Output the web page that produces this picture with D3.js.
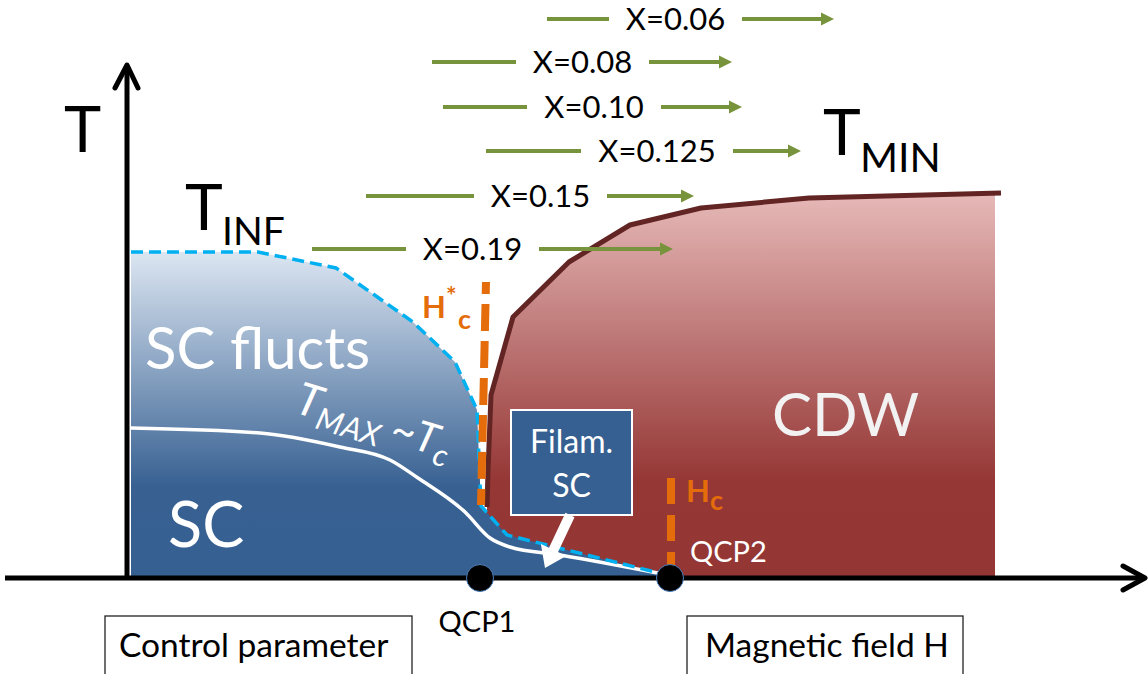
<!DOCTYPE html>
<html><head><meta charset="utf-8">
<script src="https://cdn.jsdelivr.net/npm/d3@7"></script>
<style>html,body{margin:0;padding:0;background:#fff;overflow:hidden;} svg{display:block;font-family:Lato,"Open Sans",sans-serif;}</style>
</head><body>
<svg id="c" width="1148" height="674"></svg>
<script>
// ---------------- data (x: control parameter / field, y: temperature; arbitrary units) ----------------
const tinfCurve = [[0.3,65],[13.0,65],[20.8,61.8],[28.5,51],[32.7,43],[34.9,33.4],[35.3,14.2],[37.9,8.4],[53.5,0.6]];
const tmaxCurve = [[0.3,29.8],[13.2,28.8],[21.2,26],[26.2,23.4],[29.0,19.8],[33.7,13],[36.2,7.8],[38.2,6],[43.2,4.4],[54.0,0.4]];
const cdwBoundary = [[35.9,14],[36.0,21.4],[36.3,36.4],[38.5,52],[44.1,63],[50.2,70.4],[57.3,73.8],[68.1,75.8],[87.3,76.8]];
const cdwRightEdge = 86.7;
const scEnd = 54.0;
const hcStarLine = [[35.8,59],[35.3,14.4]];
const hcLine = [[54.3,19.8],[54.3,1.2]];
const qcpNames = ["QCP1","QCP2"];
const qcpX = [35.2, 54.2];

const dopingLabels = ["X=0.06","X=0.08","X=0.10","X=0.125","X=0.15","X=0.19"];
const dopingT      = [111.6, 103, 94, 85.2, 76.2, 65.6];
const dopingFrom   = [41.9, 30.4, 31.5, 35.8, 23.8, 18.4];
const dopingTextL  = [48.1, 38.8, 39.9, 45.3, 34.6, 27.8];
const dopingTextR  = [61.4, 52.1, 53.3, 60.5, 47.9, 41.1];
const dopingTo     = [70.6, 60.4, 61.4, 67.3, 56.6, 54.5];

const axisLabels = ["Control parameter", "Magnetic field H"];

// ---------------- scales ----------------
const x = d3.scaleLinear().domain([0, 102]).range([128, 1148]);
const y = d3.scaleLinear().domain([0, 115]).range([577, 2]);

const svg = d3.select("#c");
const defs = svg.append("defs");

const gBlue = defs.append("linearGradient").attr("id","gBlue").attr("gradientUnits","userSpaceOnUse")
  .attr("x1",0).attr("x2",0).attr("y1",y(65)).attr("y2",y(0));
gBlue.append("stop").attr("offset",0).attr("stop-color","#dce6f2");
gBlue.append("stop").attr("offset",0.72).attr("stop-color","#386192");
gBlue.append("stop").attr("offset",1).attr("stop-color","#366092");

const gRed = defs.append("linearGradient").attr("id","gRed").attr("gradientUnits","userSpaceOnUse")
  .attr("x1",0).attr("x2",0).attr("y1",y(76.8)).attr("y2",y(0));
gRed.append("stop").attr("offset",0).attr("stop-color","#e6b9b8");
gRed.append("stop").attr("offset",0.75).attr("stop-color","#953735");
gRed.append("stop").attr("offset",1).attr("stop-color","#943634");

const line = d3.line().x(d=>x(d[0])).y(d=>y(d[1]));

// ---------------- CDW region ----------------
const cdwFill = cdwBoundary.map(d=>[Math.min(d[0],cdwRightEdge), d[1]])
  .concat([[cdwRightEdge,0],[cdwBoundary[0][0],0]]);
svg.append("path").attr("d", line(cdwFill)+"Z").attr("fill","url(#gRed)");

// ---------------- SC region ----------------
const scFill = tinfCurve.concat([[scEnd,0],[tinfCurve[0][0],0]]);
svg.append("path").attr("d", line(scFill)+"Z").attr("fill","url(#gBlue)");

// CDW boundary line
svg.append("path").attr("d", line(cdwBoundary)).attr("fill","none")
  .attr("stroke","#632523").attr("stroke-width",5).attr("stroke-linejoin","round");

// T_MAX ~ Tc line
svg.append("path").attr("d", d3.line().x(d=>x(d[0])).y(d=>y(d[1])).curve(d3.curveMonotoneX)(tmaxCurve))
  .attr("fill","none").attr("stroke","#fff").attr("stroke-width",3.5);

// T_INF dashed line
svg.append("path").attr("d", line(tinfCurve)).attr("fill","none")
  .attr("stroke","#00b0f0").attr("stroke-width",3.5).attr("stroke-dasharray","12,6");

// orange critical field dashed lines
svg.append("path").attr("d", line(hcStarLine)).attr("fill","none")
  .attr("stroke","#e46c0a").attr("stroke-width",8).attr("stroke-dasharray","27,10").attr("stroke-dashoffset",15);
svg.append("path").attr("d", line(hcLine)).attr("fill","none")
  .attr("stroke","#e46c0a").attr("stroke-width",8).attr("stroke-dasharray","26,11");

// ---------------- axes ----------------
const ax = -0.1, ay = -0.2;
svg.append("path").attr("d", line([[ax,ay],[ax,102.4]])).attr("stroke","#000").attr("stroke-width",5).attr("fill","none");
svg.append("path").attr("d", line([[-12.3,ay],[101.7,ay]])).attr("stroke","#000").attr("stroke-width",5).attr("fill","none");
svg.append("path").attr("d", line([[ax-1.2,97.8],[ax,102.4],[ax+1.1,97.8]]))
  .attr("stroke","#000").attr("stroke-width",5).attr("fill","none").attr("stroke-linecap","round").attr("stroke-linejoin","round");
svg.append("path").attr("d", line([[99.5,ay+2.4],[101.7,ay],[99.5,ay-2.4]]))
  .attr("stroke","#000").attr("stroke-width",5).attr("fill","none").attr("stroke-linecap","round").attr("stroke-linejoin","round");

// ---------------- Filam. SC box and arrow ----------------
svg.append("rect").attr("x",x(38.3)).attr("y",y(33.4)).attr("width",x(50.4)-x(38.3)).attr("height",y(12.4)-y(33.4))
  .attr("fill","#376092").attr("stroke","#fff").attr("stroke-width",2);
svg.append("text").attr("x",x(44.35)).attr("y",453).attr("text-anchor","middle").attr("fill","#fff").attr("font-size",32).text("Filam.");
svg.append("text").attr("x",x(44.35)).attr("y",497).attr("text-anchor","middle").attr("fill","#fff").attr("font-size",32).text("SC");

function blockArrow(x0,y0,x1,y1,sw,hw,hl){
  const dx=x1-x0, dy=y1-y0, L=Math.hypot(dx,dy), ux=dx/L, uy=dy/L, nx=-uy, ny=ux;
  const bx=x1-ux*hl, by=y1-uy*hl;
  const p=[[x0+nx*sw/2,y0+ny*sw/2],[bx+nx*sw/2,by+ny*sw/2],[bx+nx*hw/2,by+ny*hw/2],[x1,y1],
           [bx-nx*hw/2,by-ny*hw/2],[bx-nx*sw/2,by-ny*sw/2],[x0-nx*sw/2,y0-ny*sw/2]];
  return "M"+p.map(q=>q.join(",")).join("L")+"Z";
}
svg.append("path").attr("d", blockArrow(x(44.2),y(12.4),x(41.7),y(1.8),10,28,20)).attr("fill","#fff");

// QCP dots
svg.selectAll("circle.qcp").data(qcpX).join("circle").attr("class","qcp")
  .attr("cx",d=>x(d)).attr("cy",y(ay)).attr("r",13.5).attr("fill","#000").attr("stroke","#4f81bd").attr("stroke-width",1);

// ---------------- green doping arrows ----------------
const green = "#77933c";
dopingLabels.forEach((lab,i)=>{
  const yy = y(dopingT[i]);
  svg.append("line").attr("x1",x(dopingFrom[i])).attr("x2",x(dopingTextL[i])).attr("y1",yy).attr("y2",yy)
    .attr("stroke",green).attr("stroke-width",4);
  const xe = x(dopingTo[i]);
  svg.append("line").attr("x1",x(dopingTextR[i])).attr("x2",xe-10).attr("y1",yy).attr("y2",yy)
    .attr("stroke",green).attr("stroke-width",4);
  svg.append("path").attr("d",`M${xe},${yy}L${xe-13},${yy-6.5}L${xe-13},${yy+6.5}Z`).attr("fill",green);
  svg.append("text").attr("x",(x(dopingTextL[i])+x(dopingTextR[i]))/2).attr("y",yy+11)
    .attr("text-anchor","middle").attr("font-size",31).attr("fill","#000").text(lab);
});

// ---------------- labels ----------------
svg.append("text").attr("x",64).attr("y",152).attr("font-size",63).text("T");
const tinf = svg.append("text").attr("x",185).attr("y",230).attr("font-size",64);
tinf.append("tspan").text("T");
tinf.append("tspan").attr("x",222).attr("y",245).attr("font-size",39).text("INF");
const tmin = svg.append("text").attr("x",823).attr("y",155).attr("font-size",64);
tmin.append("tspan").text("T");
tmin.append("tspan").attr("x",860).attr("y",172).attr("font-size",41).text("MIN");

svg.append("text").attr("x",145).attr("y",369).attr("font-size",58).attr("fill","#fff").text("SC flucts");
svg.append("text").attr("x",168).attr("y",547).attr("font-size",63).attr("fill","#fff").text("SC");
svg.append("text").attr("x",772).attr("y",436).attr("font-size",60).attr("fill","#f2f2f2").text("CDW");

const tm = svg.append("text").attr("transform","translate(293,412) rotate(17)").attr("fill","#fff").attr("font-style","italic");
tm.append("tspan").attr("font-size",45).text("T");
tm.append("tspan").attr("font-size",31).attr("dy",9).text("MAX");
tm.append("tspan").attr("font-size",42).attr("dy",-9).text(" ~T");
tm.append("tspan").attr("font-size",31).attr("dy",9).text("c");

const hs = svg.append("text").attr("x",422).attr("y",318).attr("font-size",31).attr("font-weight","bold").attr("fill","#e46c0a");
hs.append("tspan").text("H");
hs.append("tspan").attr("font-size",25).attr("dy",-13).text("*");
hs.append("tspan").attr("font-size",27).attr("x",458).attr("dy",24).text("c");
const hc = svg.append("text").attr("x",686).attr("y",502).attr("font-size",31).attr("font-weight","bold").attr("fill","#e46c0a");
hc.append("tspan").text("H");
hc.append("tspan").attr("font-size",27).attr("dy",8).text("c");

svg.append("text").attr("x",690).attr("y",562).attr("font-size",29).attr("fill","#fff").text(qcpNames[1]);
svg.append("text").attr("x",x(qcpX[0])-3).attr("y",632).attr("text-anchor","middle").attr("font-size",29).attr("fill","#000").text(qcpNames[0]);

// bottom boxes
const boxes = [[105,412,119],[687,963,705]];
boxes.forEach((b,i)=>{
  svg.append("rect").attr("x",b[0]).attr("y",616).attr("width",b[1]-b[0]).attr("height",80)
    .attr("fill","#fff").attr("stroke","#222").attr("stroke-width",1.3);
  svg.append("text").attr("x",b[2]).attr("y",657).attr("font-size",33.5).text(axisLabels[i]);
});
</script>
</body></html>
